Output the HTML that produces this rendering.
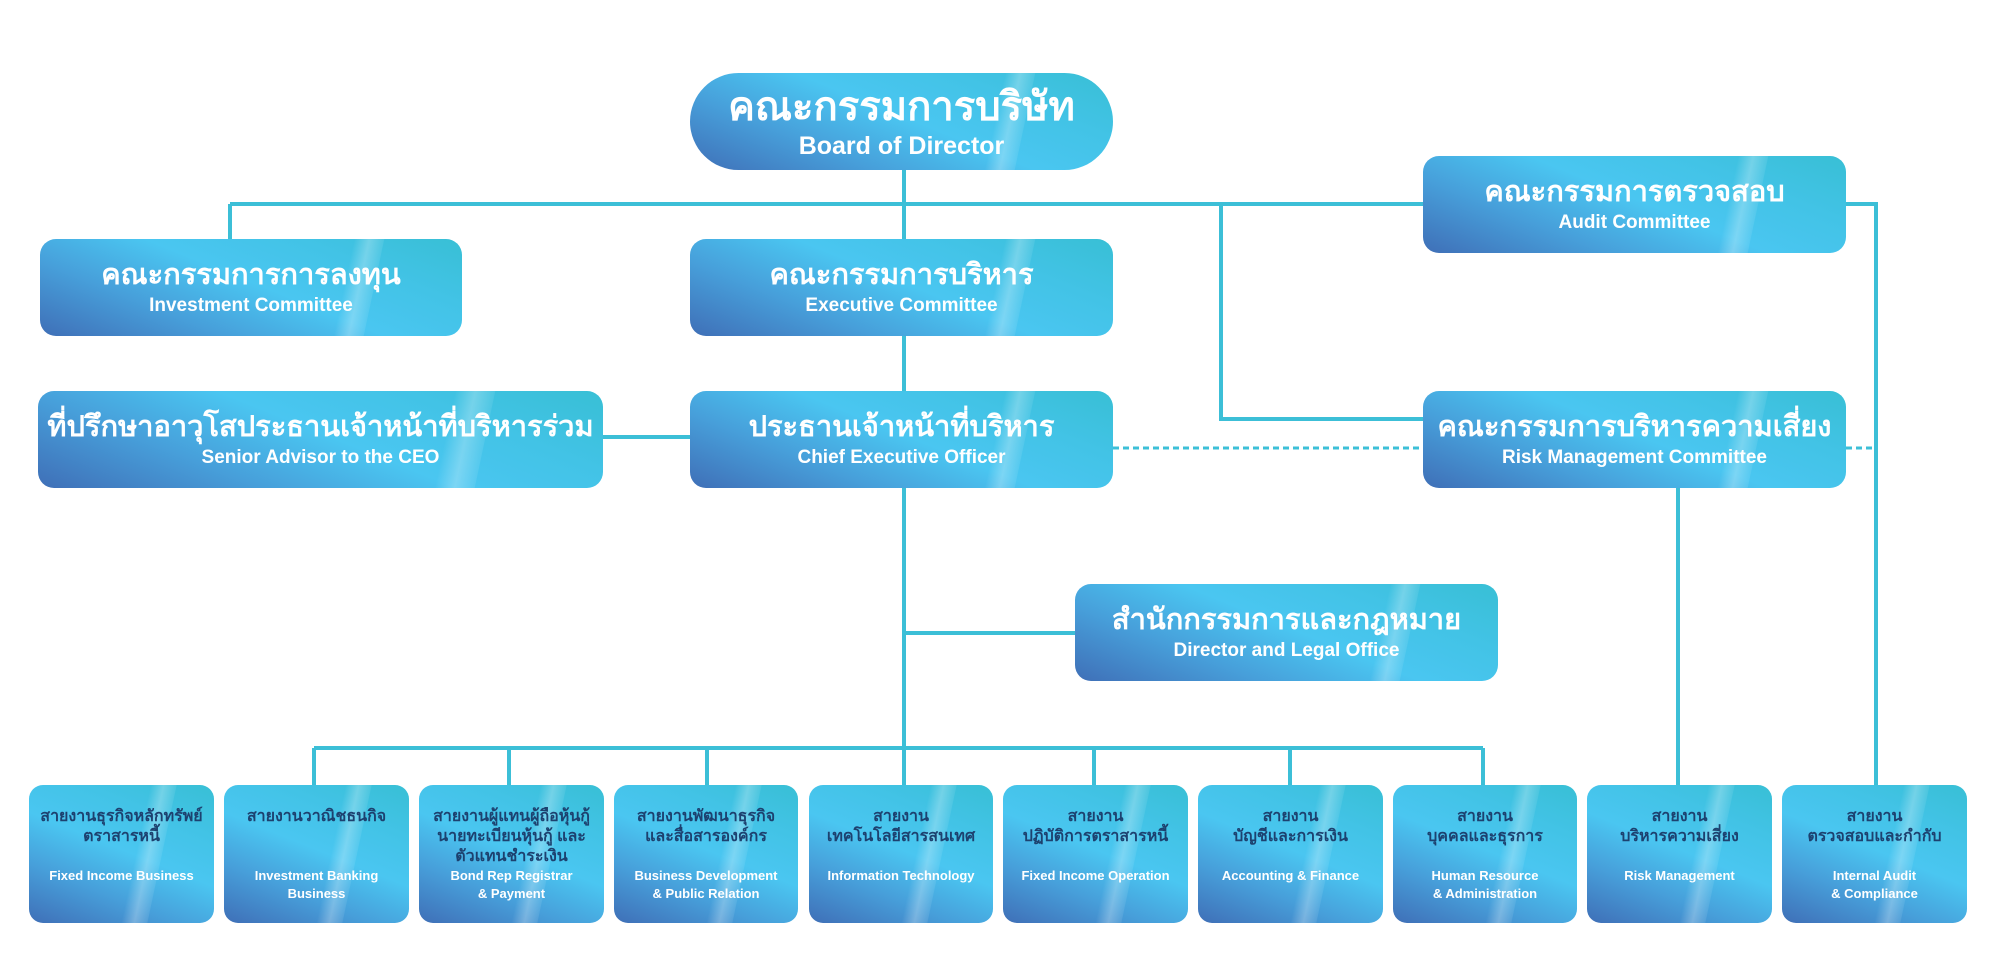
<!DOCTYPE html>
<html><head><meta charset="utf-8">
<style>
html,body{margin:0;padding:0;background:#fff;}
body{width:2000px;height:972px;position:relative;overflow:hidden;font-family:"Liberation Sans","Noto Sans CJK SC",sans-serif;}
.b{position:absolute;box-sizing:border-box;border-radius:16px;overflow:hidden;color:#fff;text-align:center;
background:linear-gradient(22deg,#3f6fb7 0%,#479fda 28%,#4ac6f1 52%,#42c3e6 75%,#38bfd5 100%);}
.b::after{content:"";position:absolute;top:0;bottom:0;left:72%;width:7%;transform:skewX(-12deg);
background:linear-gradient(90deg,rgba(255,255,255,.0),rgba(255,255,255,.28),rgba(255,255,255,.08));}
.b .in{position:relative;z-index:1;display:flex;flex-direction:column;justify-content:center;height:100%;}
.th{font-weight:bold;}
.en{font-weight:bold;}
.m .th{font-size:29px;line-height:36px;}
.m .en{font-size:19px;line-height:26px;}
.s{border-radius:14px;}
.s .in{justify-content:flex-start;padding-top:22px;}
.s .th{color:#1d416f;font-size:16px;line-height:20px;height:60px;}
.s .en{font-size:13px;line-height:18px;}
.s::after{left:58%;width:14%;}
</style></head><body>
<svg width="2000" height="972" style="position:absolute;left:0;top:0" fill="none" stroke="#3cbfd7" stroke-width="4">
<path d="M904 170V748"/>
<path d="M230 204H1423M1846 204H1876V785"/>
<path d="M230 204V239"/>
<path d="M1221 204V419H1423"/>
<path d="M603 437H690"/>
<path d="M904 633H1075"/>
<path d="M314 748H1483"/>
<path d="M314 748V785M509 748V785M707 748V785M904 748V785M1094 748V785M1290 748V785M1483 748V785"/>
<path d="M1678 488V785"/>
<path d="M1113 448H1423M1846 448H1876" stroke-dasharray="6 4" stroke-width="3"/>
</svg>

<div class="b" style="left:690px;top:73px;width:423px;height:97px;border-radius:49px;">
<div class="in"><div class="th" style="font-size:40px;line-height:48px;">คณะกรรมการบริษัท</div><div class="en" style="font-size:25px;line-height:30px;">Board of Director</div></div></div>

<div class="b m" style="left:40px;top:239px;width:422px;height:97px;"><div class="in"><div class="th">คณะกรรมการการลงทุน</div><div class="en">Investment Committee</div></div></div>
<div class="b m" style="left:690px;top:239px;width:423px;height:97px;"><div class="in"><div class="th">คณะกรรมการบริหาร</div><div class="en">Executive Committee</div></div></div>
<div class="b m" style="left:1423px;top:156px;width:423px;height:97px;"><div class="in"><div class="th">คณะกรรมการตรวจสอบ</div><div class="en">Audit Committee</div></div></div>
<div class="b m" style="left:38px;top:391px;width:565px;height:97px;"><div class="in"><div class="th">ที่ปรึกษาอาวุโสประธานเจ้าหน้าที่บริหารร่วม</div><div class="en">Senior Advisor to the CEO</div></div></div>
<div class="b m" style="left:690px;top:391px;width:423px;height:97px;"><div class="in"><div class="th">ประธานเจ้าหน้าที่บริหาร</div><div class="en">Chief Executive Officer</div></div></div>
<div class="b m" style="left:1423px;top:391px;width:423px;height:97px;"><div class="in"><div class="th">คณะกรรมการบริหารความเสี่ยง</div><div class="en">Risk Management Committee</div></div></div>
<div class="b m" style="left:1075px;top:584px;width:423px;height:97px;"><div class="in"><div class="th">สำนักกรรมการและกฎหมาย</div><div class="en">Director and Legal Office</div></div></div>

<div class="b s" style="left:29px;top:785px;width:185px;height:138px;"><div class="in"><div class="th">สายงานธุรกิจหลักทรัพย์<br>ตราสารหนี้</div><div class="en">Fixed Income Business</div></div></div>
<div class="b s" style="left:224px;top:785px;width:185px;height:138px;"><div class="in"><div class="th">สายงานวาณิชธนกิจ</div><div class="en">Investment Banking<br>Business</div></div></div>
<div class="b s" style="left:419px;top:785px;width:185px;height:138px;"><div class="in"><div class="th">สายงานผู้แทนผู้ถือหุ้นกู้<br>นายทะเบียนหุ้นกู้ และ<br>ตัวแทนชำระเงิน</div><div class="en">Bond Rep Registrar<br>&amp; Payment</div></div></div>
<div class="b s" style="left:614px;top:785px;width:184px;height:138px;"><div class="in"><div class="th">สายงานพัฒนาธุรกิจ<br>และสื่อสารองค์กร</div><div class="en">Business Development<br>&amp; Public Relation</div></div></div>
<div class="b s" style="left:809px;top:785px;width:184px;height:138px;"><div class="in"><div class="th">สายงาน<br>เทคโนโลยีสารสนเทศ</div><div class="en">Information Technology</div></div></div>
<div class="b s" style="left:1003px;top:785px;width:185px;height:138px;"><div class="in"><div class="th">สายงาน<br>ปฏิบัติการตราสารหนี้</div><div class="en">Fixed Income Operation</div></div></div>
<div class="b s" style="left:1198px;top:785px;width:185px;height:138px;"><div class="in"><div class="th">สายงาน<br>บัญชีและการเงิน</div><div class="en">Accounting &amp; Finance</div></div></div>
<div class="b s" style="left:1393px;top:785px;width:184px;height:138px;"><div class="in"><div class="th">สายงาน<br>บุคคลและธุรการ</div><div class="en">Human Resource<br>&amp; Administration</div></div></div>
<div class="b s" style="left:1587px;top:785px;width:185px;height:138px;"><div class="in"><div class="th">สายงาน<br>บริหารความเสี่ยง</div><div class="en">Risk Management</div></div></div>
<div class="b s" style="left:1782px;top:785px;width:185px;height:138px;"><div class="in"><div class="th">สายงาน<br>ตรวจสอบและกำกับ</div><div class="en">Internal Audit<br>&amp; Compliance</div></div></div>
</body></html>
